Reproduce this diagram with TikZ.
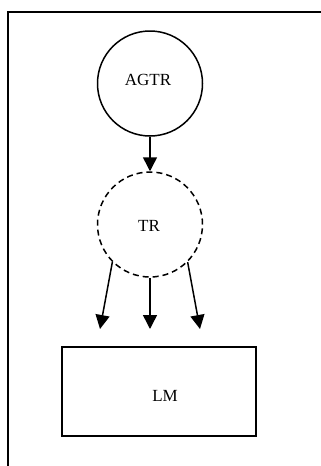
\documentclass[tikz,border=0pt]{standalone}
\usepackage{fontspec}
\setmainfont{Liberation Serif}
\usetikzlibrary{arrows.meta}
\begin{document}
\begin{tikzpicture}[x=1pt,y=-1pt,
  lw/.style={line width=1.5pt},
  circ/.style={circle,draw,lw,minimum size=105pt,inner sep=0pt},
  conn/.style={lw,-{Triangle[width=14pt,length=14pt]}},
  lbl/.style={font=\fontsize{17pt}{20pt}\selectfont}]
\useasboundingbox (0,0) rectangle (321,466);
\draw[lw] (8,470) -- (8,12) -- (325,12);
\node[circ] (agtr) at (150,83.5) {};
\node[lbl] (agtrt) at (148,80) {AGTR};
\node[circ,dashed,dash pattern=on 6pt off 4pt] (tr) at (150,224.5) {};
\node[lbl] (trt) at (149,226) {TR};
\node[draw,lw,minimum width=194pt,minimum height=89pt,inner sep=0pt] (lm) at (159,391.5) {};
\node[lbl] (lmt) at (165,396) {LM};
\coordinate (t1) at (100,329);
\coordinate (t2) at (150,329);
\coordinate (t3) at (200,329);
\draw[conn] (agtr.south) -- (tr.north);
\draw[conn] (tr.225) -- (t1);
\draw[conn] (tr.south) -- (t2);
\draw[conn] (tr.315) -- (t3);
\end{tikzpicture}
\end{document}
